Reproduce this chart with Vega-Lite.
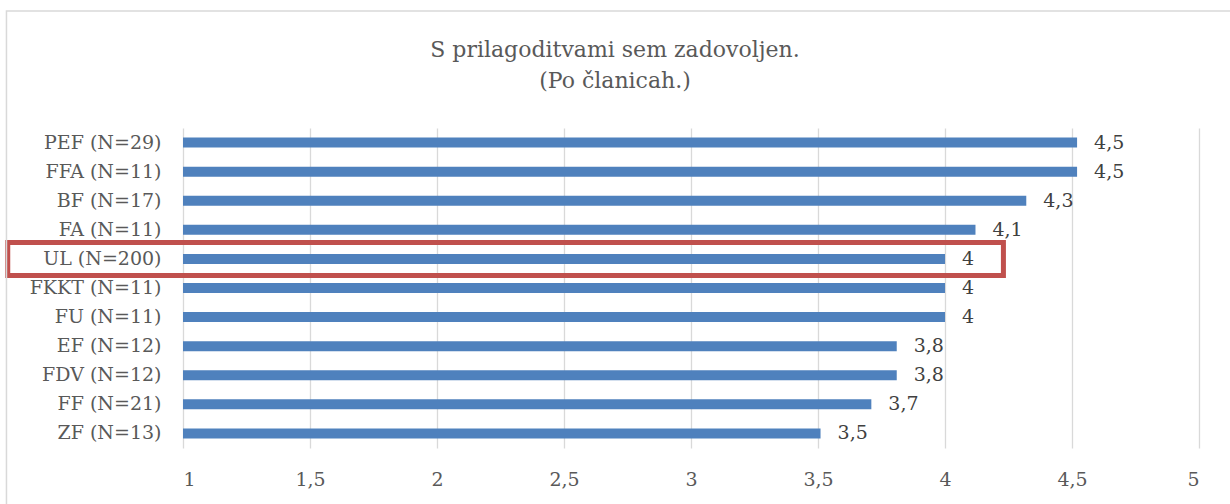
{
  "$schema": "https://vega.github.io/schema/vega-lite/v6.json",
  "autosize": "none",
  "width": 1016,
  "height": 320,
  "padding": {"left": 183, "top": 128, "right": 31, "bottom": 56},
  "background": "#ffffff",
  "config": {
    "locale": {"number": {"decimal": ",", "thousands": ".", "grouping": [3], "currency": ["", " €"]}},
    "view": {"stroke": null},
    "font": "DejaVu Serif"
  },
  "title": {
    "text": ["S prilagoditvami sem zadovoljen.", "(Po članicah.)"],
    "font": "DejaVu Serif",
    "fontSize": 22,
    "fontWeight": "normal",
    "color": "#595959",
    "lineHeight": 31,
    "anchor": "middle",
    "frame": "group",
    "dx": -76,
    "offset": -83
  },
  "data": {
    "values": [
      {"clanica": "PEF (N=29)", "vrednost": 4.52},
      {"clanica": "FFA (N=11)", "vrednost": 4.52},
      {"clanica": "BF (N=17)", "vrednost": 4.32},
      {"clanica": "FA (N=11)", "vrednost": 4.12},
      {"clanica": "UL (N=200)", "vrednost": 4.0},
      {"clanica": "FKKT (N=11)", "vrednost": 4.0},
      {"clanica": "FU (N=11)", "vrednost": 4.0},
      {"clanica": "EF (N=12)", "vrednost": 3.81},
      {"clanica": "FDV (N=12)", "vrednost": 3.81},
      {"clanica": "FF (N=21)", "vrednost": 3.71},
      {"clanica": "ZF (N=13)", "vrednost": 3.51}
    ]
  },
  "encoding": {
    "y": {
      "field": "clanica",
      "type": "nominal",
      "sort": null,
      "scale": {"paddingInner": 0, "paddingOuter": 0},
      "axis": {
        "title": null,
        "domain": false,
        "ticks": false,
        "labelFont": "DejaVu Serif",
        "labelFontSize": 19,
        "labelColor": "#595959",
        "labelPadding": 22
      }
    }
  },
  "layer": [
    {
      "mark": {"type": "bar", "height": 10, "color": "#4F81BD"},
      "encoding": {
        "x": {
          "field": "vrednost",
          "type": "quantitative",
          "scale": {"domain": [1, 5], "nice": false, "zero": false},
          "axis": {
            "title": null,
            "values": [1, 1.5, 2, 2.5, 3, 3.5, 4, 4.5, 5],
            "format": ".1~f",
            "domain": false,
            "ticks": false,
            "grid": true,
            "gridColor": "#d9d9d9",
            "gridWidth": 1.3,
            "labelFont": "DejaVu Serif",
            "labelFontSize": 19,
            "labelColor": "#595959",
            "labelPadding": 22
          }
        },
        "x2": {"datum": 1}
      }
    },
    {
      "mark": {"type": "text", "align": "left", "baseline": "middle", "dx": 17, "fontSize": 19, "color": "#404040"},
      "encoding": {
        "x": {"field": "vrednost", "type": "quantitative"},
        "text": {"field": "vrednost", "type": "quantitative", "format": ".1~f"}
      }
    },
    {
      "data": {"values": [{"clanica": "UL (N=200)", "od": 0.31, "do": 4.23}]},
      "mark": {"type": "bar", "height": 33, "fill": null, "fillOpacity": 0, "stroke": "#C0504D", "strokeWidth": 5, "clip": false},
      "encoding": {
        "x": {"field": "od", "type": "quantitative"},
        "x2": {"field": "do"}
      }
    },
    {
      "data": {"values": [{"clanica": "FKKT (N=11)", "od": 0.305, "do": 5.4}]},
      "mark": {"type": "bar", "height": 554, "fill": null, "fillOpacity": 0, "stroke": "#d9d9d9", "strokeWidth": 1.5, "clip": false},
      "encoding": {
        "x": {"field": "od", "type": "quantitative"},
        "x2": {"field": "do"}
      }
    }
  ]
}
